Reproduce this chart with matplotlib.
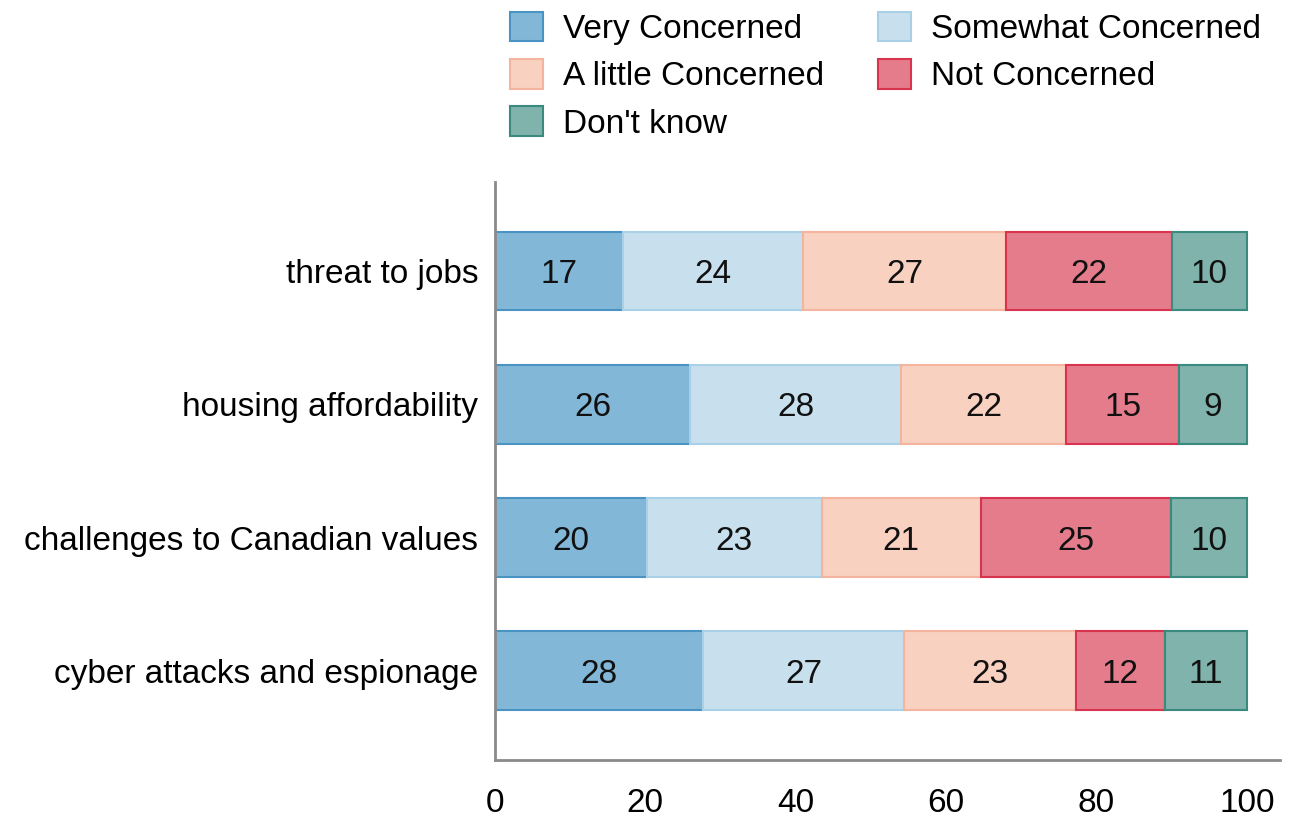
import matplotlib
matplotlib.use("Agg")
import matplotlib.pyplot as plt
import numpy as np

plt.rcParams['font.family'] = ['Liberation Sans', 'DejaVu Sans']

# data (rounded percentages as labelled)
topics = ['threat to jobs', 'housing affordability',
          'challenges to Canadian values', 'cyber attacks and espionage']
responses = ['Very Concerned', 'Somewhat Concerned', 'A little Concerned',
             'Not Concerned', "Don't know"]
very = [17, 26, 20, 28]
somewhat = [24, 28, 23, 27]
little = [27, 22, 21, 23]
not_concerned = [22, 15, 25, 12]
dont_know = [10, 9, 10, 11]

fills = ['#82b7d8', '#c8e0ee', '#f9d1c0', '#e57c8c', '#7fb3ab']
edges = ['#4a94c4', '#a9d0e7', '#f4b49d', '#d8334f', '#3b8a7f']

series = [np.array(s, dtype=float) for s in
          (very, somewhat, little, not_concerned, dont_know)]
totals = sum(series)

fig = plt.figure(figsize=(12.89, 8.19), dpi=100)
ax = fig.add_axes([0.384, 0.072, 0.609, 0.706])

y = np.arange(len(topics))
left = np.zeros(len(topics))
for vals, name, fc, ec in zip(series, responses, fills, edges):
    # bars are scaled so each row fills 100
    share = vals / totals * 100
    ax.barh(y, share, left=left, height=0.59, color=fc, edgecolor=ec,
            linewidth=1.5, label=name)
    for yi, (l, w, v) in enumerate(zip(left, share, vals)):
        ax.text(l + w / 2, yi, f'{v:.0f}', ha='center', va='center_baseline',
                fontsize=24, color='#111111')
    left += share

ax.set_yticks(y)
ax.set_yticklabels(topics, fontsize=24)
ax.set_ylim(len(topics) - 1 + 0.67, -0.67)
ax.set_xlim(0, 104.4)
ax.set_xticks([0, 20, 40, 60, 80, 100])
ax.tick_params(axis='x', length=0, pad=20, labelsize=24)
ax.tick_params(axis='y', length=0, pad=12)

for s in ['top', 'right']:
    ax.spines[s].set_visible(False)
for s in ['left', 'bottom']:
    ax.spines[s].set_color('#8a8a8a')
    ax.spines[s].set_linewidth(2)

handles, labels = ax.get_legend_handles_labels()
# reorder so the two columns read across like the reference
order = [0, 2, 4, 1, 3]
fig.legend([handles[i] for i in order], [labels[i] for i in order],
           loc='upper left', bbox_to_anchor=(0.3904, 0.994), ncol=2,
           frameon=False, fontsize=24, handlelength=1.0, handleheight=1.0,
           handletextpad=0.6, columnspacing=1.6, labelspacing=0.42,
           borderpad=0.1, borderaxespad=0.1)

fig.savefig('out.png', dpi=100)
